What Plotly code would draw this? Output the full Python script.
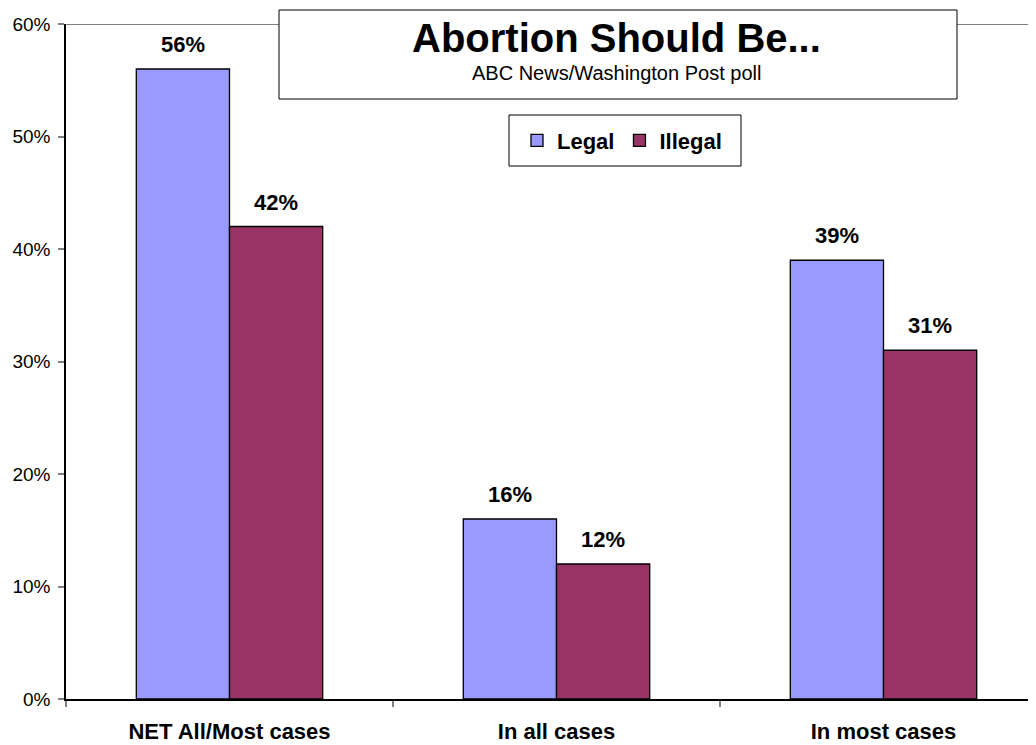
import plotly.graph_objects as go

categories = ["NET All/Most cases", "In all cases", "In most cases"]
legal = [56, 16, 39]
illegal = [42, 12, 31]
series_names = ["Legal", "Illegal"]
series_colors = ["#9999FF", "#993366"]
y_ticks = [0, 10, 20, 30, 40, 50, 60]
y_tick_labels = [f"{v}%" for v in y_ticks]
title_text = "Abortion Should Be..."
subtitle_text = "ABC News/Washington Post poll"

FONT = "Arial, Liberation Sans, Helvetica, sans-serif"
BARGAP = 0.43

# page body has an 8px margin; compensate so the plot lands where the reference has it
OFF = 8
PAGE_W, PAGE_H = 1036, 745
W, H = PAGE_W - OFF, PAGE_H - OFF
L, R, T, B = 66 - OFF, 0, 24 - OFF, PAGE_H - 699
pw, ph = W - L - R, H - T - B


def px_x(px):
    # px is a page pixel coordinate
    return (px - OFF - L) / pw


def px_y(py):
    return (H - B - (py - OFF)) / ph


fig = go.Figure()
for name, vals, col in zip(series_names, [legal, illegal], series_colors):
    fig.add_trace(go.Bar(
        x=categories, y=vals, name=name,
        marker=dict(color=col, line=dict(color="#000000", width=1.3)),
        hoverinfo="x+y+name",
    ))

# data labels
half = (1 - BARGAP) / 4
annotations = []
for s, vals in enumerate([legal, illegal]):
    off = -half if s == 0 else half
    for i, v in enumerate(vals):
        annotations.append(dict(
            x=i + off, y=v, xref="x", yref="y", text=f"{v}%",
            showarrow=False, yanchor="bottom", yshift=10,
            font=dict(family=FONT, size=22, color="#000000", weight="bold"),
        ))

# title box texts
annotations.append(dict(
    x=px_x(616), y=px_y(38), xref="paper", yref="paper", text=title_text,
    showarrow=False, xanchor="center", yanchor="middle",
    font=dict(family=FONT, size=40, color="#000000", weight="bold"),
))
annotations.append(dict(
    x=px_x(616), y=px_y(73), xref="paper", yref="paper", text=subtitle_text,
    showarrow=False, xanchor="center", yanchor="middle",
    font=dict(family=FONT, size=20, color="#000000"),
))

shapes = [
    # top border line of plot area
    dict(type="line", xref="paper", yref="y", x0=0, x1=1, y0=y_ticks[-1], y1=y_ticks[-1],
         line=dict(color="#808080", width=2), layer="below"),
    # title box
    dict(type="rect", xref="paper", yref="paper",
         x0=px_x(279), x1=px_x(957), y0=px_y(99), y1=px_y(10),
         line=dict(color="#000000", width=1), fillcolor="#FFFFFF", layer="above"),
    # legend box
    dict(type="rect", xref="paper", yref="paper",
         x0=px_x(509), x1=px_x(741), y0=px_y(166), y1=px_y(115),
         line=dict(color="#000000", width=1), fillcolor="#FFFFFF", layer="above"),
]

fig.update_layout(
    width=W, height=H,
    margin=dict(l=L, r=R, t=T, b=B, pad=0),
    paper_bgcolor="#FFFFFF", plot_bgcolor="#FFFFFF",
    barmode="group", bargap=BARGAP, bargroupgap=0,
    font=dict(family=FONT, color="#000000"),
    showlegend=True,
    legend=dict(
        orientation="h", x=px_x(622), y=px_y(140.5), xanchor="center", yanchor="middle",
        bgcolor="rgba(0,0,0,0)", borderwidth=0,
        font=dict(family=FONT, size=22, color="#000000", weight="bold"),
        itemwidth=30, itemclick=False, itemdoubleclick=False,
        traceorder="normal",
    ),
    annotations=annotations,
    shapes=shapes,
)
fig.update_xaxes(
    type="category", range=[-0.5, -0.5 + pw / 327.0],
    showline=True, linecolor="#000000", linewidth=1.5,
    showgrid=False, zeroline=False,
    ticks="outside", tickson="boundaries", ticklen=6, tickcolor="#808080", tickwidth=1.5,
    tickfont=dict(family=FONT, size=22, color="#000000", weight="bold"),
    ticklabelstandoff=12,
    fixedrange=True,
)
fig.update_yaxes(
    range=[0, 60], tickvals=y_ticks, ticktext=y_tick_labels,
    showline=True, linecolor="#000000", linewidth=1.5,
    showgrid=False, zeroline=False,
    ticks="outside", ticklen=6, tickcolor="#808080", tickwidth=1.5,
    tickfont=dict(family=FONT, size=19, color="#000000"),
    ticklabelstandoff=4,
    fixedrange=True,
)

fig.write_html("out.html", config={"displayModeBar": False})
